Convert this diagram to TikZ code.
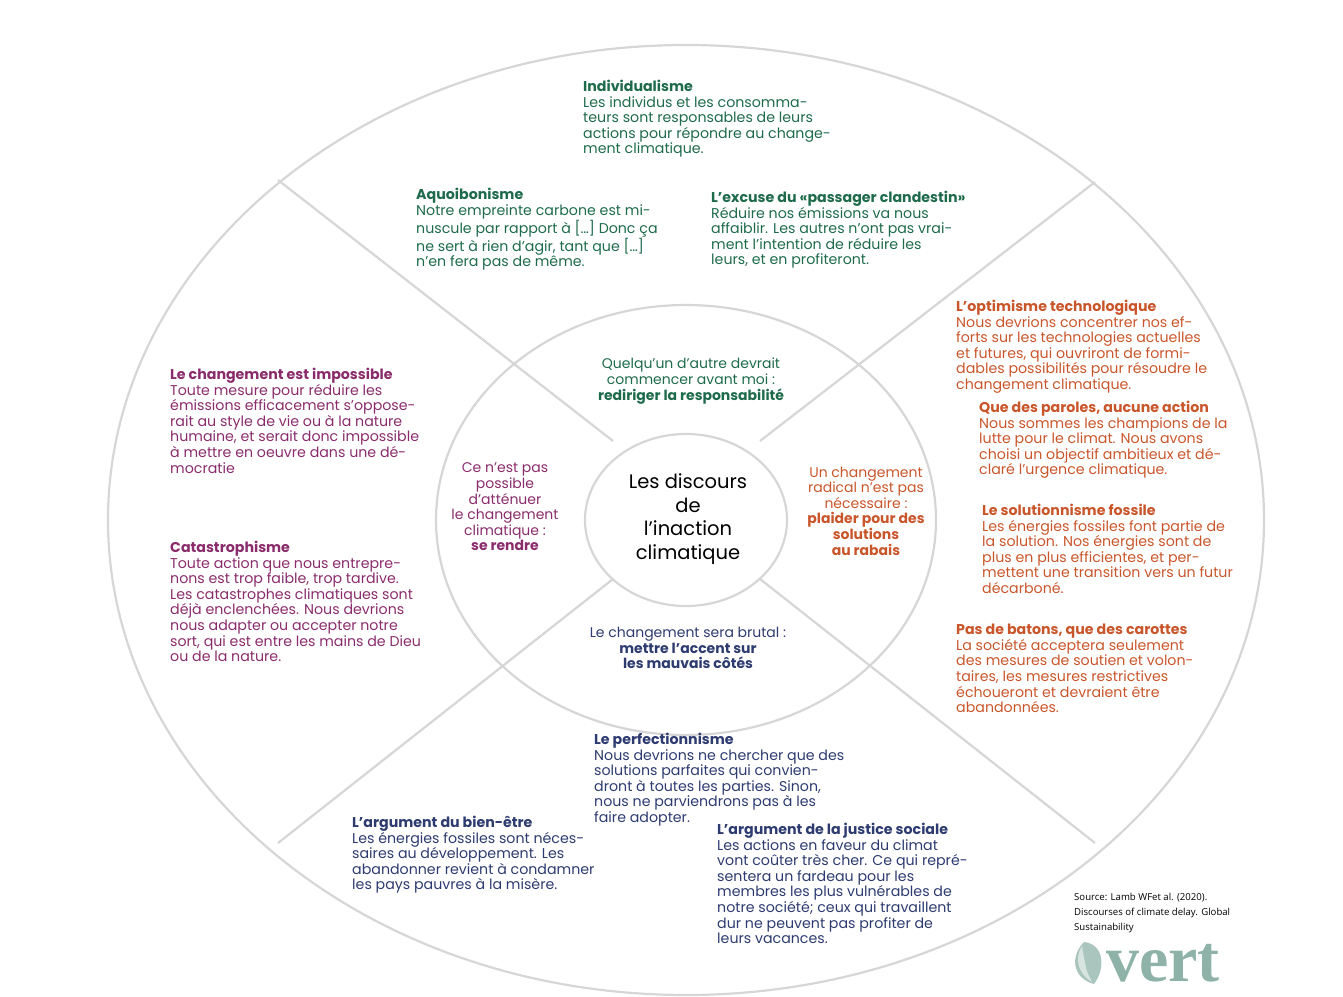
\documentclass[tikz,border=0pt]{standalone}
\usepackage{fontspec}
\setmainfont{Poppins}
\newfontfamily\srcfont{Open Sans}
\newfontfamily\logofont{Liberation Serif}
\usetikzlibrary{positioning}
\definecolor{vgreen}{HTML}{1E6B4C}
\definecolor{vpurple}{HTML}{8A2C6C}
\definecolor{vorange}{HTML}{C9562B}
\definecolor{vnavy}{HTML}{2D3B70}
\definecolor{ring}{HTML}{D6D6D6}
\definecolor{teal}{HTML}{8EB2A7}
\begin{document}
\begin{tikzpicture}[x=1pt,y=-1pt,
    ring_line/.style={draw=ring, line width=2.2pt},
    block/.style={anchor=north west, align=left, inner sep=0pt,
      font=\fontsize{14.2}{15.6}\selectfont},
    mid_text/.style={align=center, inner sep=0pt,
      font=\fontsize{14}{15.6}\selectfont}]
    \useasboundingbox (0,0) rectangle (1343,996);
    
    % Rings
    \draw[ring_line] (686,520) ellipse [x radius=578, y radius=475];
    \draw[ring_line] (686,520) ellipse [x radius=250, y radius=215];
    \draw[ring_line] (686,520) ellipse [x radius=101, y radius=86];
    
    % Dividers
    \coordinate (in_tl) at (613,441);
    \coordinate (in_tr) at (760,441);
    \coordinate (in_bl) at (613,579);
    \coordinate (in_br) at (760,579);
    \coordinate (out_tl) at (278,180);
    \coordinate (out_tr) at (1095,182);
    \coordinate (out_bl) at (278,843);
    \coordinate (out_br) at (1095,843);
    \draw[ring_line] (in_tl) -- (out_tl);
    \draw[ring_line] (in_tr) -- (out_tr);
    \draw[ring_line] (in_bl) -- (out_bl);
    \draw[ring_line] (in_br) -- (out_br);
    
    % Centre
    \node[mid_text, font=\fontsize{19.5}{23.5}\selectfont] (centre) at (688,519)
      {Les discours\\de\\l’inaction\\climatique};
    
    % Middle ring
    \node[mid_text, text=vgreen] (redirect) at (691,381)
      {Quelqu’un d’autre devrait\\commencer avant moi :\\\textbf{rediriger la responsabilité}};
    \node[mid_text, text=vpurple] (surrender) at (505,507)
      {Ce n’est pas\\possible\\d’atténuer\\le changement\\climatique :\\\textbf{se rendre}};
    \node[mid_text, text=vorange] (rabais) at (866,511)
      {Un changement\\radical n’est pas\\nécessaire :\\\textbf{plaider pour des}\\\textbf{solutions}\\\textbf{au rabais}};
    \node[mid_text, text=vnavy] (brutal) at (688,648)
      {Le changement sera brutal :\\\textbf{mettre l’accent sur}\\\textbf{les mauvais côtés}};
    
    % Green
    \node[block, text=vgreen] (indiv) at (583,80)
      {\textbf{Individualisme}\\Les individus et les consomma-\\teurs sont responsables de leurs\\actions pour répondre au change-\\ment climatique.};
    \node[block, text=vgreen] (aquoi) at (416,188)
      {\textbf{Aquoibonisme}\\Notre empreinte carbone est mi-\\nuscule par rapport à […] Donc ça\\ne sert à rien d’agir, tant que […]\\n’en fera pas de même.};
    \node[block, text=vgreen] (passager) at (711,191)
      {\textbf{L’excuse du «passager clandestin»}\\Réduire nos émissions va nous\\affaiblir. Les autres n’ont pas vrai-\\ment l’intention de réduire les\\leurs, et en profiteront.};
    
    % Orange
    \node[block, text=vorange] (optim) at (956,300)
      {\textbf{L’optimisme technologique}\\Nous devrions concentrer nos ef-\\forts sur les technologies actuelles\\et futures, qui ouvriront de formi-\\dables possibilités pour résoudre le\\changement climatique.};
    \node[block, text=vorange] (paroles) at (979,401)
      {\textbf{Que des paroles, aucune action}\\Nous sommes les champions de la\\lutte pour le climat. Nous avons\\choisi un objectif ambitieux et dé-\\claré l’urgence climatique.};
    \node[block, text=vorange] (fossile) at (982,504)
      {\textbf{Le solutionnisme fossile}\\Les énergies fossiles font partie de\\la solution. Nos énergies sont de\\plus en plus efficientes, et per-\\mettent une transition vers un futur\\décarboné.};
    \node[block, text=vorange] (carottes) at (956,624)
      {\textbf{Pas de batons, que des carottes}\\La société acceptera seulement\\des mesures de soutien et volon-\\taires, les mesures restrictives\\échoueront et devraient être\\abandonnées.};
    
    % Purple
    \node[block, text=vpurple] (impossible) at (170,368)
      {\textbf{Le changement est impossible}\\Toute mesure pour réduire les\\émissions efficacement s’oppose-\\rait au style de vie ou à la nature\\humaine, et serait donc impossible\\à mettre en oeuvre dans une dé-\\mocratie};
    \node[block, text=vpurple] (catastr) at (170,541)
      {\textbf{Catastrophisme}\\Toute action que nous entrepre-\\nons est trop faible, trop tardive.\\Les catastrophes climatiques sont\\déjà enclenchées. Nous devrions\\nous adapter ou accepter notre\\sort, qui est entre les mains de Dieu\\ou de la nature.};
    
    % Navy
    \node[block, text=vnavy] (perfect) at (594,733)
      {\textbf{Le perfectionnisme}\\Nous devrions ne chercher que des\\solutions parfaites qui convien-\\dront à toutes les parties. Sinon,\\nous ne parviendrons pas à les\\faire adopter.};
    \node[block, text=vnavy] (bienetre) at (352,816)
      {\textbf{L’argument du bien-être}\\Les énergies fossiles sont néces-\\saires au développement. Les\\abandonner revient à condamner\\les pays pauvres à la misère.};
    \node[block, text=vnavy] (justice) at (717,823)
      {\textbf{L’argument de la justice sociale}\\Les actions en faveur du climat\\vont coûter très cher. Ce qui repré-\\sentera un fardeau pour les\\membres les plus vulnérables de\\notre société; ceux qui travaillent\\dur ne peuvent pas profiter de\\leurs vacances.};
    
    % Source and logo
    \node[anchor=north west, align=left, inner sep=0pt,
      font=\srcfont\fontsize{9.6}{15}\selectfont] (source) at (1074,893)
      {Source: Lamb WFet al. (2020).\\Discourses of climate delay. Global\\Sustainability};
    \node[anchor=base west, inner sep=0pt, text=teal,
      font=\logofont\bfseries\fontsize{66}{66}\selectfont] (logo) at (1106,981) {vert};
    \fill[teal!75] (1084,942) .. controls (1104,944) and (1106,968) .. (1094,984)
      .. controls (1072,978) and (1070,956) .. (1084,942);
    \fill[teal!35] (1082,946) .. controls (1074,958) and (1078,974) .. (1092,982)
      .. controls (1086,970) .. (1082,946);
\end{tikzpicture}
\end{document}
